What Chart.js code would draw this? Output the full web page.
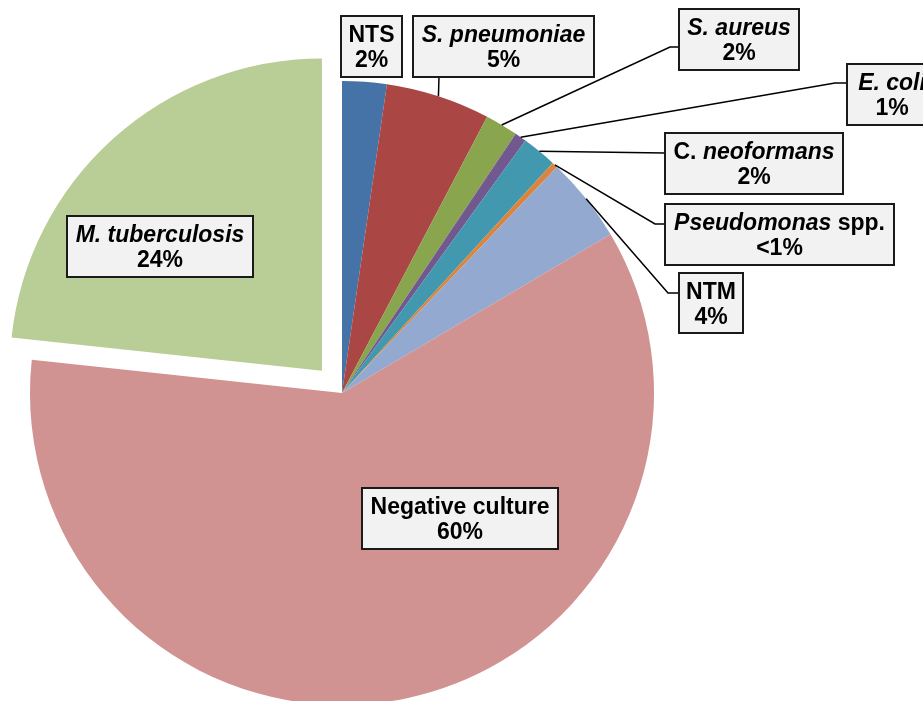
<!DOCTYPE html>
<html>
<head>
<meta charset="utf-8">
<script src="https://cdn.jsdelivr.net/npm/chart.js@4"></script>
<style>
  html, body { margin: 0; padding: 0; background: #fff; }
  #wrap { width: 923px; height: 701px; }
</style>
</head>
<body>
<div id="wrap"><canvas id="pie" width="923" height="701"></canvas></div>
<script>
// Données (en %)
const categories = ['NTS', 'S. pneumoniae', 'S. aureus', 'E. coli', 'C. neoformans',
  'Pseudomonas spp.', 'NTM', 'Negative culture', 'M. tuberculosis'];
const shares = [2.3, 5.4, 1.7, 0.6, 1.8, 0.3, 4.4, 60.2, 23.3];
const pctLabels = ['2%', '5%', '2%', '1%', '2%', '<1%', '4%', '60%', '24%'];
const sliceColors = ['#4572A7', '#AA4643', '#89A54E', '#71588F', '#4198AF',
  '#DB843D', '#93A9CF', '#D19392', '#B9CD96'];

// Segments du nom : [texte, italique]
const nameParts = [
  [['NTS', false]],
  [['S. pneumoniae', true]],
  [['S. aureus', true]],
  [['E. coli', true]],
  [['C. ', false], ['neoformans', true]],
  [['Pseudomonas', true], [' spp.', false]],
  [['NTM', false]],
  [['Negative culture', false]],
  [['M. tuberculosis', true]]
];

// Placement des étiquettes (boîte + coude/fin de la ligne de rappel)
const labelBoxes = [
  { x: 341, y: 16, w: 61, h: 61, leader: null },
  { x: 413, y: 16, w: 181, h: 61, leader: [[439, 77]] },
  { x: 679, y: 9, w: 120, h: 61, leader: [[670, 47], [679, 47]] },
  { x: 847, y: 64, w: 90, h: 61, leader: [[835, 83], [847, 83]] },
  { x: 665, y: 133, w: 178, h: 61, leader: [[665, 153]] },
  { x: 665, y: 204, w: 229, h: 61, leader: [[655, 224], [665, 224]] },
  { x: 679, y: 273, w: 64, h: 60, leader: [[668, 293], [679, 293]] },
  { x: 362, y: 488, w: 196, h: 61, leader: null },
  { x: 67, y: 216, w: 186, h: 61, leader: null }
];

const FONT_SIZE = 23;
const FAMILY = '"Liberation Sans", Arial, sans-serif';

function drawLine(ctx, parts, cx, cy) {
  const fontOf = it => (it ? 'italic ' : '') + 'bold ' + FONT_SIZE + 'px ' + FAMILY;
  let total = 0;
  parts.forEach(([t, it]) => { ctx.font = fontOf(it); total += ctx.measureText(t).width; });
  let x = cx - total / 2;
  parts.forEach(([t, it]) => {
    ctx.font = fontOf(it);
    ctx.fillText(t, x, cy);
    x += ctx.measureText(t).width;
  });
}

const labelPlugin = {
  id: 'boxLabels',
  afterDatasetsDraw(chart) {
    const ctx = chart.ctx;
    const arcs = chart.getDatasetMeta(0).data;
    ctx.save();

    // Lignes de rappel depuis le milieu de l'arc extérieur
    ctx.strokeStyle = '#000';
    ctx.lineWidth = 1.5;
    labelBoxes.forEach((b, i) => {
      if (!b.leader) return;
      const a = arcs[i];
      const mid = (a.startAngle + a.endAngle) / 2;
      ctx.beginPath();
      ctx.moveTo(a.x + Math.cos(mid) * a.outerRadius, a.y + Math.sin(mid) * a.outerRadius);
      b.leader.forEach(([px, py]) => ctx.lineTo(px, py));
      ctx.stroke();
    });

    // Boîtes
    ctx.textBaseline = 'middle';
    ctx.textAlign = 'left';
    labelBoxes.forEach((b, i) => {
      ctx.fillStyle = '#F2F2F2';
      ctx.fillRect(b.x, b.y, b.w, b.h);
      ctx.strokeStyle = '#1a1a1a';
      ctx.lineWidth = 2;
      ctx.strokeRect(b.x, b.y, b.w, b.h);
      ctx.fillStyle = '#000';
      const cx = b.x + b.w / 2;
      drawLine(ctx, nameParts[i], cx, b.y + 20);
      drawLine(ctx, [[pctLabels[i], false]], cx, b.y + 45);
    });
    ctx.restore();
  }
};

new Chart(document.getElementById('pie'), {
  type: 'pie',
  data: {
    labels: categories,
    datasets: [{
      data: shares,
      backgroundColor: sliceColors,
      borderWidth: 0,
      // Chart.js divise l'offset par 4 : 120 -> ~30 px de décalage
      offset: categories.map(c => (c === 'M. tuberculosis' ? 120 : 0)),
      clip: false
    }]
  },
  options: {
    responsive: false,
    animation: false,
    radius: 312,
    layout: { padding: { left: 0, right: 239, top: 85, bottom: 0 } },
    plugins: {
      legend: { display: false },
      tooltip: { enabled: false }
    },
    events: []
  },
  plugins: [labelPlugin]
});
</script>
</body>
</html>
